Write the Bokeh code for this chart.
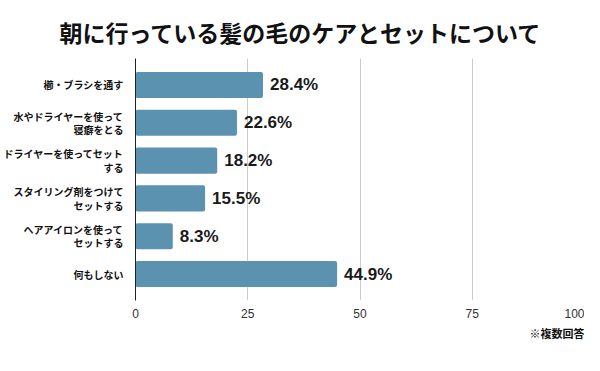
from bokeh.plotting import figure
from bokeh.models import FactorRange, FixedTicker, Title, ColumnDataSource
from bokeh.core.properties import value
from bokeh.embed import file_html
from bokeh.resources import INLINE

categories = [
    "櫛・ブラシを通す",
    "水やドライヤーを使って\n寝癖をとる",
    "ドライヤーを使ってセット\nする",
    "スタイリング剤をつけて\nセットする",
    "ヘアアイロンを使って\nセットする",
    "何もしない",
]
values = [28.4, 22.6, 18.2, 15.5, 8.3, 44.9]
value_labels = ["28.4%", "22.6%", "18.2%", "15.5%", "8.3%", "44.9%"]
x_ticks = [0, 25, 50, 75, 100]
title_text = "朝に行っている髪の毛のケアとセットについて"
note_text = "※複数回答"

JP = "Noto Sans CJK JP"
LAT = "Liberation Sans"

src = ColumnDataSource(dict(cat=categories, val=values, lab=value_labels))

p = figure(
    width=584, height=348,
    y_range=FactorRange(factors=list(reversed(categories)), range_padding=0.2,
                        range_padding_units="absolute"),
    x_range=(0, 100),
    output_backend="svg", toolbar_location=None,
    min_border_left=130, min_border_right=0, min_border_top=58, min_border_bottom=48,
)
p.outline_line_color = None
p.background_fill_color = "white"
p.border_fill_color = "white"

p.hbar(y="cat", right="val", left=0, height=0.69, source=src,
       fill_color="#5a92b0", line_color=None, border_radius=2)

p.text(x="val", y="cat", text="lab", source=src, x_offset=7,
       text_baseline="middle", text_align="left",
       text_font=value(LAT), text_font_style="bold", text_font_size="17px",
       text_color="#1a1a1a")

# x axis
p.xaxis.ticker = FixedTicker(ticks=x_ticks)
p.xaxis.axis_line_color = None
p.xaxis.major_tick_line_color = None
p.xaxis.minor_tick_line_color = None
p.xaxis.major_label_text_font = LAT
p.xaxis.major_label_text_font_size = "12px"
p.xaxis.major_label_text_color = "#333333"
p.xaxis.major_label_standoff = 2

# y axis
p.yaxis.axis_line_color = "#222222"
p.yaxis.axis_line_width = 1
p.yaxis.major_tick_line_color = None
p.yaxis.minor_tick_line_color = None
p.yaxis.major_label_text_font = JP
p.yaxis.major_label_text_font_style = "bold"
p.yaxis.major_label_text_font_size = "10px"
p.yaxis.major_label_text_color = "#111111"
p.yaxis.major_label_text_line_height = 0.9
p.yaxis.major_label_standoff = 6

p.xgrid.ticker = FixedTicker(ticks=x_ticks)
p.xgrid.grid_line_color = "#cccccc"
p.ygrid.grid_line_color = None

p.add_layout(Title(text=note_text, align="right", text_font=JP,
                   text_font_style="bold", text_font_size="11px",
                   text_color="#111111", standoff=5, offset=0), "below")
p.add_layout(Title(text=title_text, align="left", offset=-76, text_font=JP,
                   text_font_style="bold", text_font_size="23px",
                   text_color="#111111", vertical_align="middle", standoff=18), "above")

open("out.html", "w").write(file_html(p, INLINE))
